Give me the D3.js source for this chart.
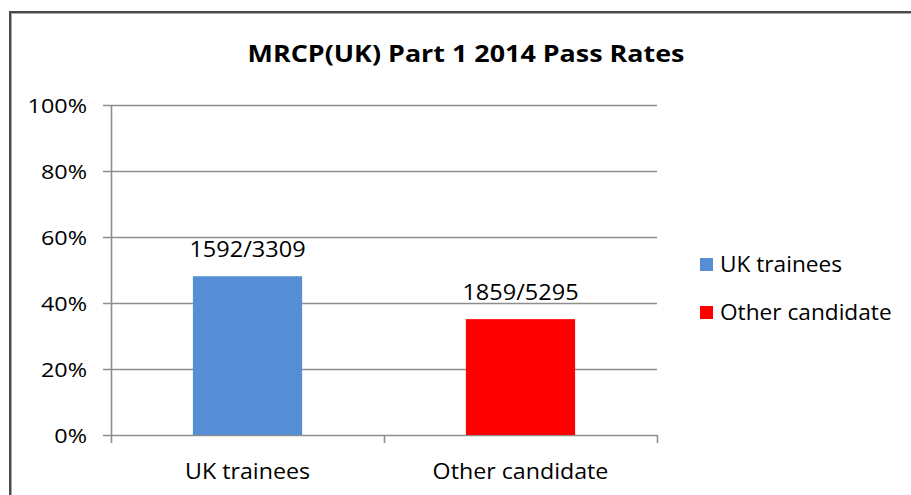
<!DOCTYPE html>
<html><head><meta charset="utf-8">
<script src="https://cdn.jsdelivr.net/npm/d3@7"></script>
<style>html,body{margin:0;padding:0;background:#fff;overflow:hidden}</style>
</head><body>
<svg id="c" width="911" height="495"></svg>
<script>
const categories = ["UK trainees", "Other candidate"];
const passed = [1592, 1859];
const totals = [3309, 5295];
const colors = ["#558ED5", "#FF0000"];
const yTicks = [0, 0.2, 0.4, 0.6, 0.8, 1.0];
const title = "MRCP(UK) Part 1 2014 Pass Rates";

const rates = passed.map((p, i) => p / totals[i]);
const svg = d3.select("#c");
const font = "'Open Sans', sans-serif";

// outer frame
svg.append("rect").attr("x", 10).attr("y", 12).attr("width", 960).attr("height", 600)
  .attr("fill", "none").attr("stroke", "#4a4a4a").attr("stroke-width", 2);
svg.append("rect").attr("x", 11.5).attr("y", 13.5).attr("width", 960).attr("height", 600)
  .attr("fill", "none").attr("stroke", "#a8a8a8").attr("stroke-width", 1);

const L = 111, R = 657, T = 105, B = 435;
const x = d3.scaleBand().domain(categories).range([L, R]).paddingInner(0.6).paddingOuter(0.3);
const y = d3.scaleLinear().domain([0, 1]).range([B, T]);

function stretched(sel, sx) {
  return sel.attr("transform", function () {
    const tx = +this.getAttribute("data-x"), ty = +this.getAttribute("data-y");
    return `translate(${tx},${ty}) scale(${sx},1)`;
  });
}

// gridlines
svg.append("g").selectAll("line").data(yTicks).join("line")
  .attr("x1", L - 8).attr("x2", R).attr("y1", d => Math.round(y(d)) + 0.5).attr("y2", d => Math.round(y(d)) + 0.5)
  .attr("stroke", "#8e8e8e").attr("stroke-width", 1.6);

// y axis labels
stretched(svg.append("g").selectAll("text").data(yTicks).join("text")
  .attr("data-x", 87).attr("data-y", d => y(d) + 7.5).attr("text-anchor", "end")
  .attr("font-family", font).attr("font-size", 20).attr("fill", "#000")
  .text(d => d3.format(".0%")(d)), 1.17);

// y axis line
svg.append("line").attr("x1", L + 0.5).attr("x2", L + 0.5).attr("y1", T).attr("y2", B)
  .attr("stroke", "#8e8e8e").attr("stroke-width", 1.6);

// x axis ticks
const xTickPos = [L, (L + R) / 2, R];
svg.append("g").selectAll("line").data(xTickPos).join("line")
  .attr("x1", d => Math.round(d) + 0.5).attr("x2", d => Math.round(d) + 0.5).attr("y1", B).attr("y2", B + 8)
  .attr("stroke", "#8e8e8e").attr("stroke-width", 1.6);

// bars
svg.append("g").selectAll("rect").data(categories).join("rect")
  .attr("x", d => x(d)).attr("width", x.bandwidth())
  .attr("y", (d, i) => y(rates[i])).attr("height", (d, i) => B - y(rates[i]))
  .attr("fill", (d, i) => colors[i]);

// data labels
stretched(svg.append("g").selectAll("text").data(categories).join("text")
  .attr("data-x", d => x(d) + x.bandwidth() / 2).attr("data-y", (d, i) => y(rates[i]) - 19)
  .attr("text-anchor", "middle").attr("font-family", font).attr("font-size", 21).attr("fill", "#000")
  .text((d, i) => passed[i] + "/" + totals[i]), 1.12);

// x labels
stretched(svg.append("g").selectAll("text").data(categories).join("text")
  .attr("data-x", d => x(d) + x.bandwidth() / 2).attr("data-y", 479)
  .attr("text-anchor", "middle").attr("font-family", font).attr("font-size", 21.5).attr("fill", "#000")
  .text(d => d), 1.08);

// title
stretched(svg.append("text").attr("data-x", 466).attr("data-y", 61.5).attr("text-anchor", "middle")
  .attr("font-family", font).attr("font-weight", "bold").attr("font-size", 24).attr("fill", "#000")
  .text(title), 1.12);

// legend
const lg = svg.append("g").selectAll("g").data(categories).join("g")
  .attr("transform", (d, i) => `translate(700,${258 + i * 48})`);
lg.append("rect").attr("width", 13).attr("height", 13).attr("fill", (d, i) => colors[i]);
stretched(lg.append("text").attr("data-x", 20).attr("data-y", 14).attr("font-family", font).attr("font-size", 22)
  .attr("fill", "#000").text(d => d), 1.03);
</script>
</body></html>
